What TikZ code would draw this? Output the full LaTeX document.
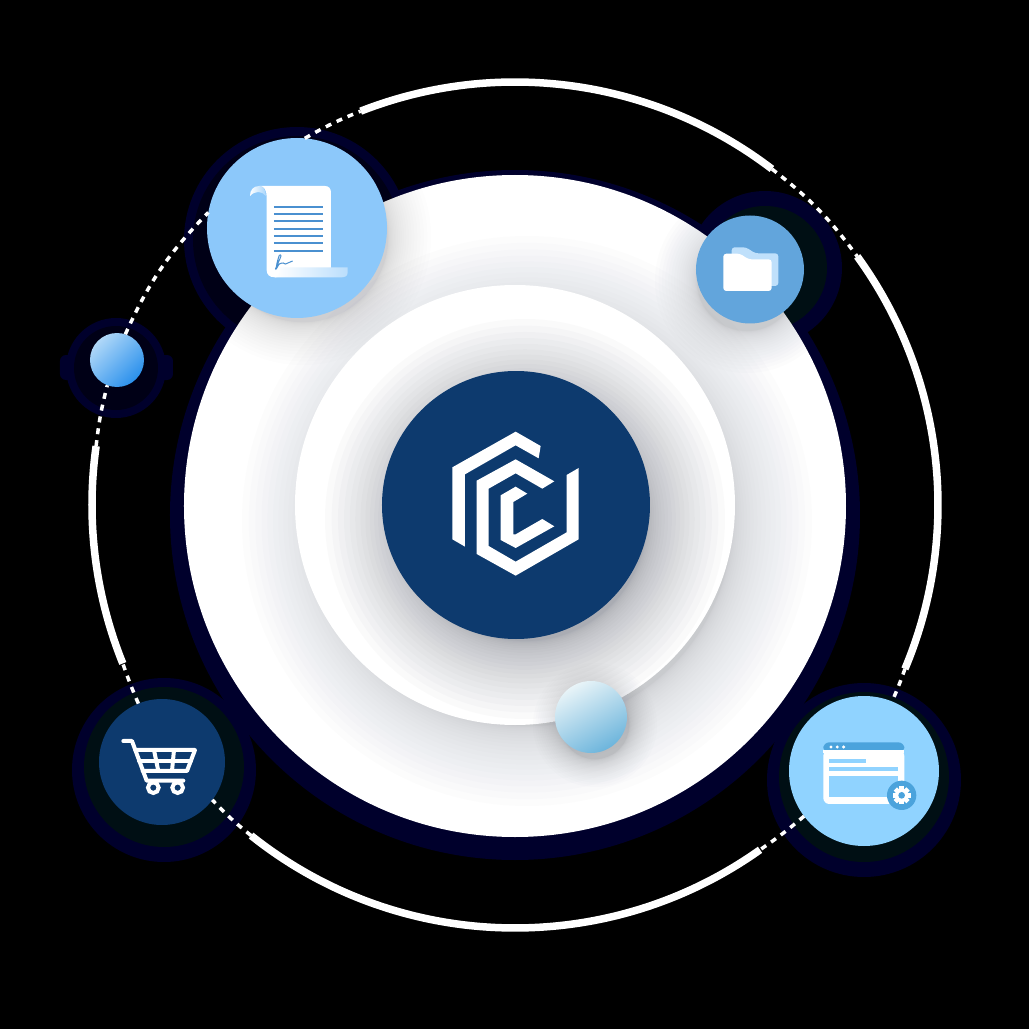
\documentclass[tikz,border=0pt]{standalone}
\usepackage{tikz}
\definecolor{hubblue}{HTML}{0D3A6E}
\definecolor{docblue}{HTML}{8CC8FA}
\definecolor{folderblue}{HTML}{62A5DC}
\definecolor{folderback}{HTML}{BFE0FB}
\definecolor{panelblue}{HTML}{90D3FF}
\definecolor{barblue}{HTML}{4BA3DC}
\definecolor{lineblue}{HTML}{4A90D0}
\definecolor{ballhigh}{HTML}{B0D8F8}
\definecolor{balllow}{HTML}{2A90EC}
\definecolor{pearlhigh}{HTML}{E8F4F8}
\definecolor{pearllow}{HTML}{6DB5DC}
\definecolor{haloblue}{HTML}{00002C}
\definecolor{halodark}{HTML}{000F14}
\definecolor{haloblack}{HTML}{000016}
\definecolor{shadowgrey}{HTML}{70747F}
\tikzset{
orb/.style={circle, minimum size=#1pt, inner sep=0pt, outer sep=0pt},
solidring/.style={white, line width=7.5pt},
dashlink/.style={white, line width=3.5pt, dash pattern=on 6pt off 6pt},
iconline/.style={white, line width=4pt, line join=round, line cap=round}
}
\newcommand{\softshadow}[5]{
\foreach \k in {0,...,23} {
\fill[shadowgrey, opacity=#5/24] (#1,#2) circle ({#3+(#4-#3)*(\k/23)*(\k/23)});
}
}
\begin{document}
\begin{tikzpicture}[x=1pt, y=1pt]
\useasboundingbox (-515,-524) rectangle (514,505);
\fill[black] (-515,-524) rectangle (514,505);

% dark halos
\fill[haloblue] (0,-10) circle (345);
\fill[haloblue] (-218,265) circle (113);
\fill[haloblack] (-218,265) circle (104);
\fill[haloblue] (250,237) circle (77);
\fill[halodark] (250,237) circle (62);
\fill[haloblue] (-399,137) circle (50);
\fill[haloblue, rounded corners=6pt] (-455,150) rectangle (-342,125);
\fill[haloblack] (-399,137) circle (42);
\fill[haloblue] (-351,-265) circle (92);
\fill[halodark] (-351,-262) circle (80);
\fill[haloblue] (349,-275) circle (97);
\fill[halodark] (349,-272) circle (85);

% discs and their soft shadows
\node[orb=662, fill=white] (outer) at (0,-1) {};
\begin{scope}
\clip (0,-1) circle (331);
\softshadow{12}{-16}{205}{285}{0.42}
\softshadow{-212}{268}{85}{128}{0.3}
\softshadow{232}{224}{50}{92}{0.4}
\softshadow{80}{-220}{34}{62}{0.4}
\end{scope}
\node[orb=440, fill=white] (inner) at (0,0) {};
\begin{scope}
\clip (0,0) circle (220);
\softshadow{10}{-14}{122}{200}{0.8}
\softshadow{80}{-220}{34}{62}{0.4}
\end{scope}

% nodes
\node[orb=268, fill=hubblue] (hub) at (1,0) {};
\node[orb=180, fill=docblue] (doc) at (-218,277) {};
\node[orb=108, fill=folderblue] (folder) at (235,235.5) {};
\node[orb=54, top color=ballhigh, bottom color=balllow, shading angle=45] (ball) at (-398,145) {};
\node[orb=126, fill=hubblue] (cart) at (-353,-257) {};
\node[orb=150, fill=panelblue] (panel) at (349,-266) {};
\node[orb=72, top color=pearlhigh, bottom color=pearllow, shading angle=30] (pearl) at (76,-212) {};

% ring
\coordinate (ra) at (111.4:423);
\coordinate (rb) at (52.6:423);
\coordinate (rc) at (36:423);
\coordinate (rd) at (-22.8:423);
\coordinate (re) at (-54.6:423);
\coordinate (rf) at (231.4:423);
\coordinate (rg) at (202:423);
\coordinate (rh) at (172:423);

\draw[solidring] (ra) arc[start angle=111.4, end angle=52.6, radius=423];
\draw[solidring] (rc) arc[start angle=36, end angle=-22.8, radius=423];
\draw[solidring] (re) arc[start angle=-54.6, end angle=-128.6, radius=423];
\draw[solidring] (rg) arc[start angle=202, end angle=172, radius=423];

\draw[dashlink] (doc.85) to[bend left=4] (ra);
\draw[dashlink] (rb) to[bend left=8] (rc);
\draw[dashlink] (rd) to[bend left=2] (panel.68);
\draw[dashlink] (panel.217) to[bend left=3] (re);
\draw[dashlink] (rf) to[bend left=4] (cart.-37);
\draw[dashlink] (cart.112) to[bend left=2] (rg);
\draw[dashlink] (rh) to[bend left=4] (ball.249);
\draw[dashlink] (ball.72) to[bend left=10] (doc.170);

% logo
\begin{scope}[shift={(-85,95)}, x=0.3333pt, y=-0.3333pt]
\fill[white] (67,172) -- (257,65) -- (332,108) -- (326,145) -- (257,106) -- (105,193) -- (105,410) -- (67,388) -- cycle;
\fill[white] (140,212) -- (257,148) -- (373,214) -- (337,236) -- (257,190) -- (176,236) -- (176,408) -- (257,455) -- (410,367) -- (410,195) -- (446,174) -- (446,388) -- (257,497) -- (140,432) -- cycle;
\fill[white] (212,256) -- (257,230) -- (292,251) -- (250,276) -- (250,373) -- (257,373) -- (337,327) -- (373,349) -- (257,414) -- (212,390) -- cycle;
\end{scope}

% contract icon
\begin{scope}[shift={(-315,375)}, x=0.3333pt, y=-0.3333pt]
\fill[white] (178,168) -- (375,168) .. controls (387,168) and (393,176) .. (393,188) -- (393,420) -- (225,442) .. controls (208,442) and (200,434) .. (200,420) -- (200,200) .. controls (200,180) and (192,168) .. (178,168) -- cycle;
\shade[left color=white, right color=docblue!75!white] (150,198) .. controls (150,180) and (160,168) .. (178,168) .. controls (190,168) and (197,180) .. (198,198) .. controls (185,182) and (165,182) .. (150,198) -- cycle;
\shade[left color=white, right color=docblue!60!white] (240,412) -- (443,412) -- (443,428) .. controls (443,438) and (435,442) .. (425,442) -- (225,442) .. controls (238,438) and (242,425) .. (240,412) -- cycle;
\foreach \ypos in {230,252,274,296,318,340,362} {
\draw[lineblue, line width=2pt] (222,\ypos) -- (368,\ypos);
}
\draw[lineblue, line width=1pt] plot[smooth] coordinates {(226,418) (236,395) (243,378) (238,376) (231,400) (229,416) (238,402) (250,399) (256,402) (266,398) (278,393)};
\end{scope}

% folder icon
\begin{scope}[shift={(175,295)}, x=0.3333pt, y=-0.3333pt]
\fill[folderback, rounded corners=3pt] (125,225) -- (125,112) -- (168,112) -- (196,130) -- (265,130) -- (265,228) -- cycle;
\fill[white, rounded corners=3pt] (100,243) -- (100,131) -- (150,131) -- (176,148) -- (245,148) -- (245,243) -- cycle;
\end{scope}

% cart icon
\begin{scope}[shift={(-425,-185)}, x=0.3333pt, y=-0.3333pt]
\draw[iconline] (100,153) -- (126,153) -- (170,272) -- (280,272);
\draw[iconline] (136,180) -- (315,180) -- (291,243) -- (158,243);
\draw[iconline] (147,212) -- (303,212);
\draw[iconline] (192,180) -- (205,243);
\draw[iconline] (252,180) -- (246,243);
\draw[white, line width=4pt] (190,293) circle (16);
\draw[white, line width=4pt] (263,293) circle (16);
\end{scope}

% settings panel icon
\begin{scope}[shift={(265,-185)}, x=0.3333pt, y=-0.3333pt]
\fill[white, rounded corners=6pt] (130,180) rectangle (373,342);
\fill[barblue, rounded corners=6pt] (130,157) rectangle (373,188);
\fill[white] (130,180) rectangle (373,188);
\foreach \xpos in {153,172,191} {
\fill[white] (\xpos,171) circle (5);
}
\fill[panelblue] (148,207) rectangle (257,219);
\fill[panelblue] (148,232) rectangle (355,244);
\fill[panelblue] (148,258) rectangle (355,320);
\fill[barblue] (365,316) circle (44);
\foreach \ang in {0,45,...,315} {
\fill[white, rotate around={\ang:(365,316)}] (358,289) rectangle (372,300);
}
\fill[white] (365,316) circle (20);
\fill[barblue] (365,316) circle (10);
\end{scope}
\end{tikzpicture}
\end{document}
